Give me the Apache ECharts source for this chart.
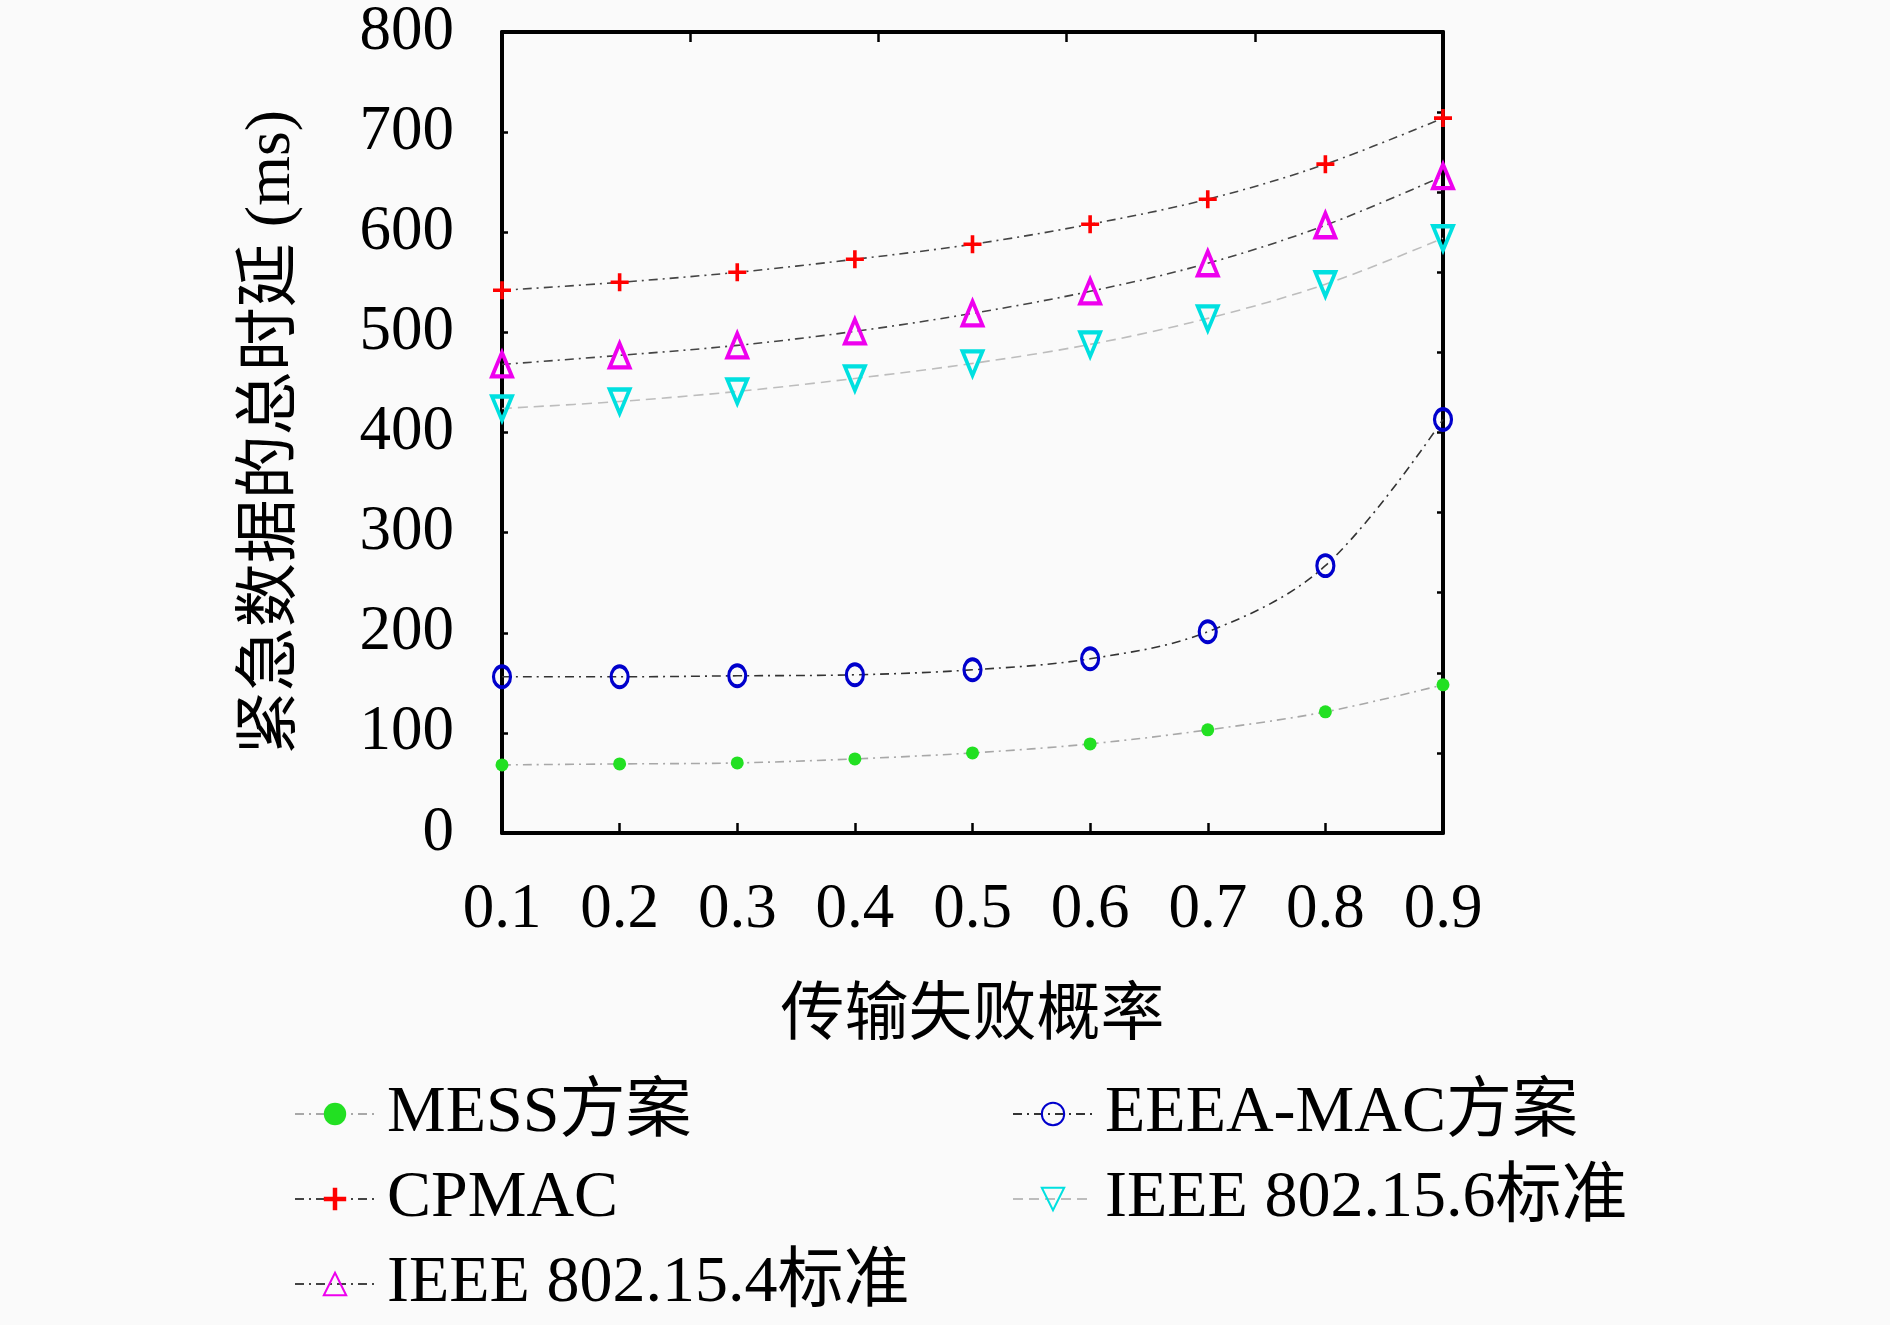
<!DOCTYPE html>
<html>
<head>
<meta charset="utf-8">
<script src="https://cdn.jsdelivr.net/npm/echarts@6/dist/echarts.min.js"></script>
<style>
  html, body { margin: 0; padding: 0; background: #fafafa; }
  #cht { width: 1890px; height: 1325px; }
</style>
</head>
<body>
<div id="cht"></div>
<script>
var categories = ['0.1', '0.2', '0.3', '0.4', '0.5', '0.6', '0.7', '0.8', '0.9'];
var yTicks = [0, 100, 200, 300, 400, 500, 600, 700, 800];

var mess = [68, 69, 70, 74, 80, 89, 103, 121, 148];
var eeea = [156, 156, 157, 158, 163, 174, 201, 267, 413];
var cpmac = [542, 550, 560, 573, 588, 608, 633, 668, 714];
var ieee6 = [424, 431, 441, 454, 469, 488, 514, 548, 594];
var ieee4 = [468, 477, 487, 501, 519, 541, 569, 607, 656];

var serif = '"Liberation Serif", "Noto Sans CJK SC", serif';
var dashDot = [9, 5, 2, 5];

function line(name, data, sym, size, itemStyle, lineColor, dash) {
    return {
        name: name,
        type: 'line',
        data: data,
        smooth: 0.35,
        symbol: sym,
        symbolSize: size,
        showAllSymbol: true,
        itemStyle: itemStyle,
        lineStyle: { color: lineColor, width: 1.6, type: dash },
        z: 3
    };
}

var axisLine = { show: true, onZero: false, lineStyle: { color: '#000', width: 4 } };
var legendText = { fontFamily: serif, fontSize: 66, color: '#000', lineHeight: 70, padding: [0, 0, 0, 7] };

var config = {
    backgroundColor: '#fafafa',
    animation: false,
    grid: { left: 502, right: 447, top: 32, bottom: 492 },
    legend: [{
        data: ['MESS方案', 'CPMAC', 'IEEE 802.15.4标准'],
        orient: 'vertical',
        left: 289, top: 1074,
        itemWidth: 80, itemHeight: 28, itemGap: 15,
        textStyle: legendText
    }, {
        data: ['EEEA-MAC方案', 'IEEE 802.15.6标准'],
        orient: 'vertical',
        left: 1007, top: 1074,
        itemWidth: 80, itemHeight: 28, itemGap: 15,
        textStyle: legendText
    }],
    xAxis: [{
        type: 'category',
        data: categories,
        boundaryGap: false,
        name: '传输失败概率',
        nameLocation: 'middle',
        nameGap: 152,
        nameTextStyle: { fontFamily: serif, fontSize: 64, color: '#000' },
        axisLine: axisLine,
        axisTick: { inside: true, length: 10, lineStyle: { color: '#000', width: 2.5 } },
        axisLabel: { fontFamily: serif, fontSize: 63, color: '#000', margin: 46 },
        splitLine: { show: false }
    }, {
        type: 'value',
        position: 'top',
        min: 0, max: 5, interval: 1,
        axisLine: axisLine,
        axisTick: { show: true, inside: true, length: 10, lineStyle: { color: '#000', width: 2.5 } },
        axisLabel: { show: false },
        splitLine: { show: false }
    }],
    yAxis: [{
        type: 'value',
        min: yTicks[0], max: yTicks[yTicks.length - 1], interval: 100,
        name: '紧急数据的总时延 (ms)',
        nameLocation: 'middle',
        nameGap: 198,
        nameTextStyle: { fontFamily: serif, fontSize: 64, color: '#000' },
        axisLine: axisLine,
        axisTick: { show: true, inside: true, length: 6, lineStyle: { color: '#000', width: 2.5 } },
        axisLabel: { fontFamily: serif, fontSize: 63, color: '#000', margin: 48 },
        splitLine: { show: false }
    }, {
        type: 'value',
        position: 'right',
        min: 0, max: 10, interval: 1,
        axisLine: axisLine,
        axisTick: { show: true, inside: true, length: 6, lineStyle: { color: '#000', width: 2.5 } },
        axisLabel: { show: false },
        splitLine: { show: false }
    }],
    series: [
        line('MESS方案', mess, 'circle', 13,
            { color: '#22e022' }, '#a8a8a8', dashDot),
        line('EEEA-MAC方案', eeea, 'path://M5,0A5,5.8 0 1 1 5,11.6A5,5.8 0 1 1 5,0Z', [17, 21],
            { color: 'rgba(0,0,0,0)', borderColor: '#0000cc', borderWidth: 3.5 }, '#333', dashDot),
        line('CPMAC', cpmac, 'path://M4,0H6V4H10V6H6V10H4V6H0V4H4Z', 18,
            { color: '#ff0000' }, '#444', dashDot),
        line('IEEE 802.15.6标准', ieee6, 'path://M0,0L10,0L5,10Z', [20, 24],
            { color: 'rgba(0,0,0,0)', borderColor: '#00e0e0', borderWidth: 4 }, '#bdbdbd', [10, 6]),
        line('IEEE 802.15.4标准', ieee4, 'path://M5,0L10,10L0,10Z', [20, 24],
            { color: 'rgba(0,0,0,0)', borderColor: '#ee00ee', borderWidth: 4 }, '#444', dashDot)
    ]
};

window.onload = function () {
    var myChart = echarts.init(document.getElementById('cht'));
    myChart.setOption(config);
};
</script>
</body>
</html>
